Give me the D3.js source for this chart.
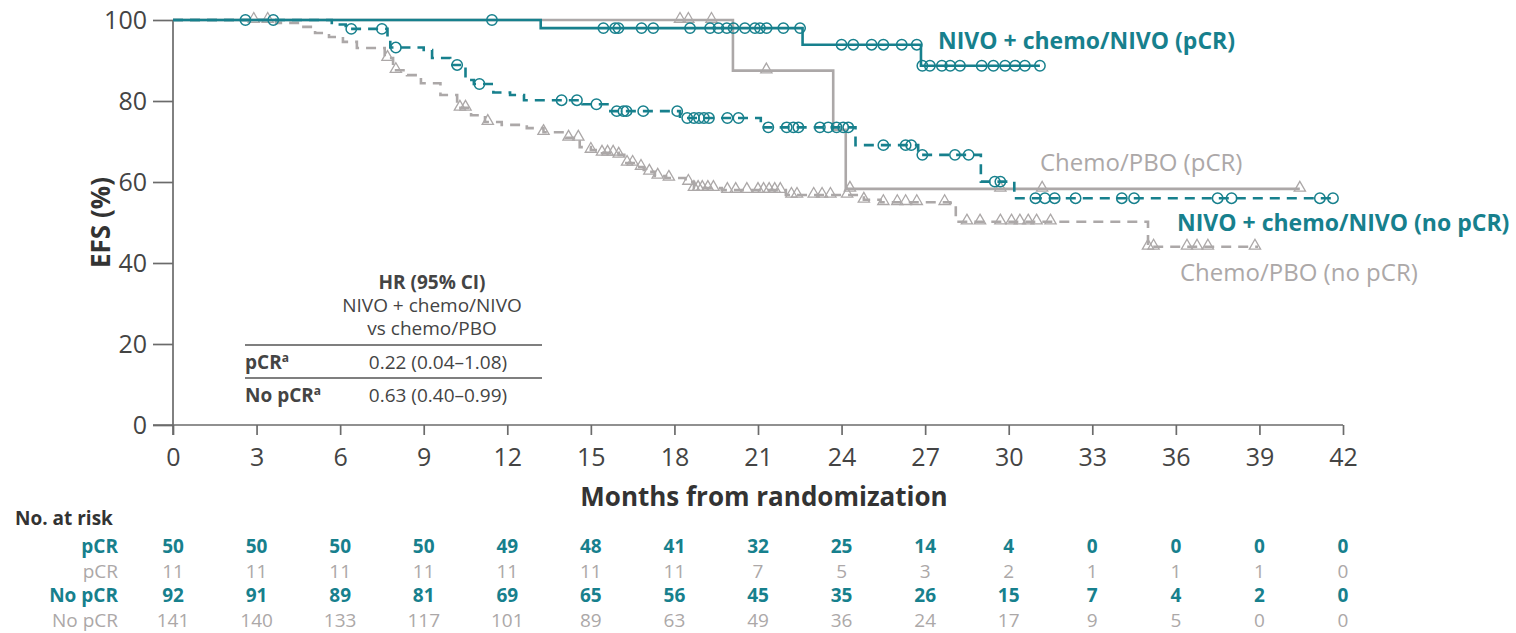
<!DOCTYPE html>
<html>
<head>
<meta charset="utf-8">
<script src="https://cdn.jsdelivr.net/npm/d3@7"></script>
<style>
  body { margin: 0; background: #fff; }
  svg { display: block; }
  text { font-family: "Open Sans", "Noto Sans", sans-serif; }
</style>
</head>
<body>
<svg id="chart" width="1516" height="633"></svg>
<script>
// ---- Axis ticks ----
const monthTicks = [0, 3, 6, 9, 12, 15, 18, 21, 24, 27, 30, 33, 36, 39, 42];
const efsTicks = [0, 20, 40, 60, 80, 100];

// ---- Kaplan–Meier curves: [month, EFS % after the event] ----
const nivoPcrSteps = [[13.2, 98.0], [22.6, 93.9], [26.85, 88.7]];
const nivoPcrEnd = 31.12;
const nivoPcrCensored = [2.6, 3.6, 11.45, 15.45, 15.87, 15.99, 16.82, 17.24, 18.56, 19.28, 19.58, 19.88,
  20.12, 20.53, 20.89, 21.07, 21.31, 21.91, 22.51, 24.0, 24.42, 25.08, 25.5, 26.16, 26.7,
  26.9, 27.17, 27.6, 27.9, 28.25, 29.03, 29.45, 29.87, 30.23, 30.58, 31.12];

const chemoPcrSteps = [[20.1, 87.5], [23.7, 72.9], [24.15, 58.3]];
const chemoPcrEnd = 40.45;
const chemoPcrCensored = [18.2, 18.5, 19.33, 21.3, 24.3, 29.7, 31.2, 40.45];

const nivoNoPcrSteps = [[5.7, 98.9], [6.2, 97.8], [7.7, 95.6], [7.8, 93.2], [9.0, 92.6], [9.3, 90.6],
  [9.95, 88.9], [10.5, 85.2], [10.8, 84.2], [11.5, 82.1], [12.1, 81.5], [12.6, 80.2], [14.7, 79.2],
  [15.7, 77.5], [18.2, 75.8], [21.1, 73.5], [24.5, 69.1], [26.75, 66.7], [29.0, 60.1], [30.2, 56.0]];
const nivoNoPcrEnd = 41.64;
const nivoNoPcrCensored = [6.4, 7.5, 8.0, 10.2, 11.0, 13.95, 14.5, 15.2, 15.93, 16.17, 16.28, 16.88,
  18.1, 18.46, 18.7, 18.88, 19.06, 19.24, 19.9, 20.3, 21.37, 22.03, 22.27, 22.45, 23.22, 23.52,
  23.82, 24.06, 24.24, 25.5, 26.3, 26.5, 26.9, 28.07, 28.56, 29.5, 29.7, 30.96, 31.3, 31.65,
  32.4, 34.06, 34.5, 37.5, 38.0, 41.17, 41.64];

const chemoNoPcrSteps = [[3.7, 99.3], [4.6, 98.3], [5.1, 96.8], [5.6, 95.8], [6.1, 94.6], [6.6, 93.1],
  [7.6, 90.6], [7.9, 87.6], [8.4, 86.4], [8.9, 84.4], [9.6, 81.5], [10.2, 78.3], [10.7, 76.5],
  [11.2, 74.8], [11.8, 74.1], [12.7, 73.3], [13.3, 72.3], [14.1, 70.9], [14.6, 68.6], [15.0, 67.9],
  [15.4, 67.2], [16.0, 66.7], [16.2, 64.7], [16.6, 63.7], [16.9, 62.5], [17.3, 61.5], [17.7, 61.0],
  [18.4, 60.0], [18.7, 58.5], [19.7, 58.0], [22.0, 56.8], [24.8, 55.6], [25.4, 55.0], [27.9, 54.8],
  [28.1, 50.2], [35.0, 44.0]];
const chemoNoPcrEnd = 38.95;
const chemoNoPcrCensored = [2.9, 3.4, 7.7, 8.0, 10.3, 10.5, 11.3, 13.3, 14.2, 14.55, 15.0, 15.4, 15.6,
  15.8, 16.0, 16.3, 16.5, 16.8, 17.1, 17.4, 17.8, 18.5, 18.7, 18.85, 19.0, 19.2, 19.4, 19.9, 20.2,
  20.6, 21.0, 21.2, 21.4, 21.6, 21.8, 22.2, 22.4, 23.0, 23.3, 23.6, 24.2, 24.8, 25.5, 26.0, 26.3,
  26.7, 27.7, 28.5, 28.97, 29.7, 30.1, 30.4, 30.7, 31.0, 31.5, 35.0, 35.2, 36.4, 36.76, 37.15, 38.84];

// ---- Curve labels ----
const curveLabels = ["NIVO + chemo/NIVO (pCR)", "Chemo/PBO (pCR)", "NIVO + chemo/NIVO (no pCR)", "Chemo/PBO (no pCR)"];

// ---- Hazard ratio inset ----
const hrHeader = ["HR (95% CI)", "NIVO + chemo/NIVO", "vs chemo/PBO"];
const hrRowLabels = ["pCR", "No pCR"];
const hrRowValues = ["0.22 (0.04–1.08)", "0.63 (0.40–0.99)"];

// ---- Number at risk ----
const riskTitle = "No. at risk";
const riskRowLabels = ["pCR", "pCR", "No pCR", "No pCR"];
const riskNivoPcr = [50, 50, 50, 50, 49, 48, 41, 32, 25, 14, 4, 0, 0, 0, 0];
const riskChemoPcr = [11, 11, 11, 11, 11, 11, 11, 7, 5, 3, 2, 1, 1, 1, 0];
const riskNivoNoPcr = [92, 91, 89, 81, 69, 65, 56, 45, 35, 26, 15, 7, 4, 2, 0];
const riskChemoNoPcr = [141, 140, 133, 117, 101, 89, 63, 49, 36, 24, 17, 9, 5, 0, 0];

// ---- Styling ----
const TEAL = "#17808d";
const GRAY = "#aca8a8";
const AXIS = "#6b6b6b";
const INK = "#444";

const svg = d3.select("#chart");
const x = d3.scaleLinear().domain([0, 42]).range([173, 1343]);
const y = d3.scaleLinear().domain([0, 100]).range([425, 20]);

// Axes
const xAxis = svg.append("g").attr("transform", `translate(0,${y(0)})`)
  .call(d3.axisBottom(x).tickValues(monthTicks).tickSize(10).tickSizeOuter(0).tickPadding(8));
const yAxis = svg.append("g").attr("transform", `translate(${x(0)},0)`)
  .call(d3.axisLeft(y).tickValues(efsTicks).tickSize(20).tickSizeOuter(0).tickPadding(6));
[xAxis, yAxis].forEach(g => {
  g.select(".domain").attr("stroke", AXIS).attr("stroke-width", 1.7);
  g.selectAll(".tick line").attr("stroke", AXIS).attr("stroke-width", 1.7);
  g.selectAll(".tick text").attr("fill", INK).style("font-size", "25px")
    .style("font-family", "'Open Sans', sans-serif");
});
xAxis.selectAll(".tick text").attr("dy", "0.92em");
// extend axes slightly past the origin
xAxis.select(".domain").attr("d", `M${x(0) - 20},0H${x(42)}`);
yAxis.select(".domain").attr("d", `M0,${y(100)}V${y(0) + 10}`);

svg.append("text").attr("x", 764).attr("y", 506).attr("text-anchor", "middle")
  .attr("fill", "#333").style("font-size", "26px").style("font-weight", "bold")
  .text("Months from randomization");
svg.append("text").attr("transform", `translate(110,${y(50)}) rotate(-90)`).attr("text-anchor", "middle")
  .attr("fill", "#333").style("font-size", "26px").style("font-weight", "bold").text("EFS (%)");

// Step-function helpers
function curvePoints(steps, end) {
  const pts = [[0, 100]];
  steps.forEach(s => pts.push(s));
  pts.push([end, steps[steps.length - 1][1]]);
  return pts;
}
function survivalAt(steps, t) {
  let v = 100;
  steps.forEach(s => { if (t >= s[0]) v = s[1]; });
  return v;
}
const stepLine = d3.line().x(d => x(d[0])).y(d => y(d[1])).curve(d3.curveStepAfter);

function drawCurve(steps, end, censored, color, dashed, marker) {
  const g = svg.append("g");
  g.append("path").datum(curvePoints(steps, end)).attr("d", stepLine)
    .attr("fill", "none").attr("stroke", color).attr("stroke-width", 2.6)
    .attr("stroke-dasharray", dashed ? "10,7" : null);
  if (marker === "circle") {
    g.selectAll("circle").data(censored).join("circle")
      .attr("cx", d => x(d)).attr("cy", d => y(survivalAt(steps, d))).attr("r", 5.2)
      .attr("fill", "none").attr("stroke", color).attr("stroke-width", 1.5);
  } else {
    const tri = d3.symbol().type(d3.symbolTriangle).size(55);
    g.selectAll("path.m").data(censored).join("path").attr("class", "m")
      .attr("d", tri).attr("transform", d => `translate(${x(d)},${y(survivalAt(steps, d)) - 1})`)
      .attr("fill", "none").attr("stroke", color).attr("stroke-width", 1.3);
  }
}

drawCurve(chemoNoPcrSteps, chemoNoPcrEnd, chemoNoPcrCensored, GRAY, true, "triangle");
drawCurve(chemoPcrSteps, chemoPcrEnd, chemoPcrCensored, GRAY, false, "triangle");
drawCurve(nivoNoPcrSteps, nivoNoPcrEnd, nivoNoPcrCensored, TEAL, true, "circle");
drawCurve(nivoPcrSteps, nivoPcrEnd, nivoPcrCensored, TEAL, false, "circle");

// Curve labels
const labelSpec = [
  { x: 938, y: 49, color: TEAL, bold: true, size: 23 },
  { x: 1040, y: 171, color: GRAY, bold: false, size: 24 },
  { x: 1177, y: 231, color: TEAL, bold: true, size: 23 },
  { x: 1180, y: 281, color: GRAY, bold: false, size: 24 }
];
curveLabels.forEach((t, i) => {
  const s = labelSpec[i];
  svg.append("text").attr("x", s.x).attr("y", s.y).attr("fill", s.color)
    .style("font-size", s.size + "px").style("font-weight", s.bold ? "bold" : "normal").text(t);
});

// Hazard ratio inset
const hr = svg.append("g").attr("fill", INK).style("font-size", "19px");
const hrLeft = 245, hrRight = 542, hrHeadX = 432, hrValueX = 438;
hr.append("text").attr("x", hrHeadX).attr("y", 289).attr("text-anchor", "middle")
  .style("font-weight", "bold").text(hrHeader[0]);
hr.append("text").attr("x", hrHeadX).attr("y", 312).attr("text-anchor", "middle").text(hrHeader[1]);
hr.append("text").attr("x", hrHeadX).attr("y", 335).attr("text-anchor", "middle").text(hrHeader[2]);
[345, 378].forEach(ly => hr.append("line").attr("x1", hrLeft).attr("x2", hrRight)
  .attr("y1", ly).attr("y2", ly).attr("stroke", "#555").attr("stroke-width", 1.5));
hrRowLabels.forEach((lab, i) => {
  const by = 369 + i * 33;
  const t = hr.append("text").attr("x", hrLeft).attr("y", by).style("font-weight", "bold");
  t.append("tspan").text(lab);
  t.append("tspan").attr("dy", -7).style("font-size", "12px").text("a");
  hr.append("text").attr("x", hrValueX).attr("y", by).attr("text-anchor", "middle").text(hrRowValues[i]);
});

// Number at risk table
svg.append("text").attr("x", 15).attr("y", 525).attr("fill", "#333")
  .style("font-size", "19px").style("font-weight", "bold").text(riskTitle);
const riskRows = [
  { values: riskNivoPcr, color: TEAL, bold: true },
  { values: riskChemoPcr, color: GRAY, bold: false },
  { values: riskNivoNoPcr, color: TEAL, bold: true },
  { values: riskChemoNoPcr, color: GRAY, bold: false }
];
riskRows.forEach((row, i) => {
  const by = 553 + i * 24.5;
  const g = svg.append("g").attr("fill", row.color).style("font-size", "19px")
    .style("font-weight", row.bold ? "bold" : "normal");
  g.append("text").attr("x", 118).attr("y", by).attr("text-anchor", "end").text(riskRowLabels[i]);
  g.selectAll("text.v").data(row.values).join("text").attr("class", "v")
    .attr("x", (d, j) => x(monthTicks[j])).attr("y", by).attr("text-anchor", "middle").text(d => d);
});
</script>
</body>
</html>
